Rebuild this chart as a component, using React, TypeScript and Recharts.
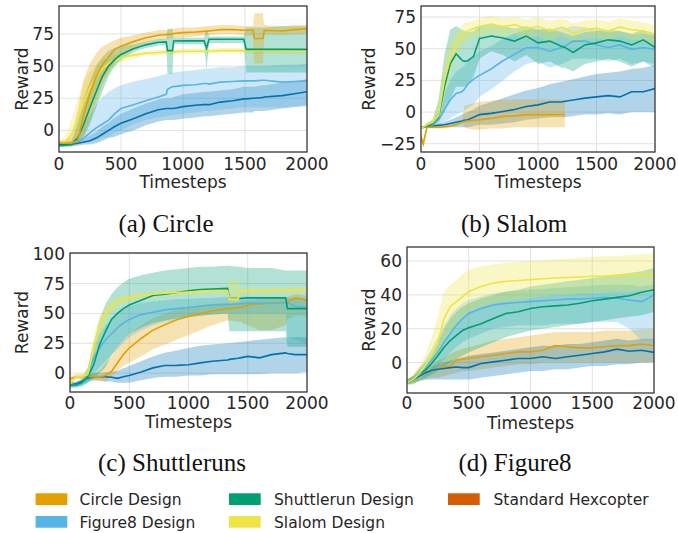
import React from 'react';
import { ComposedChart, Area, Line, XAxis, YAxis, CartesianGrid } from 'recharts';

// ---------- colours ----------
const C_CIRCLE = '#E69F00';
const C_FIG8 = '#56B4E9';
const C_SHUTTLE = '#009E73';
const C_SLALOM = '#F0E442';
const C_STANDARD = '#D55E00';
const C_BASE = '#0072B2';

const xTicks = [0, 500, 1000, 1500, 2000];

// ---------- (a) Circle ----------
const circleX = [0, 50, 100, 150, 200, 250, 300, 350, 400, 450, 500, 600, 700, 800, 865, 875, 915, 925, 1000, 1100, 1170, 1190, 1210, 1300, 1400, 1490, 1510, 1565, 1575, 1645, 1655, 1800, 1900, 2000];
const circleOrange = [-10, -10, -10, -8, 12, 29, 42, 51, 57, 63, 65.5, 69, 72, 74, 74.5, 74.5, 75, 75.3, 76, 76.5, 77, 77, 77.3, 78.3, 78.3, 77.8, 77.8, 77.8, 71.4, 71.4, 77.8, 77.3, 78.3, 78.9];
const circleOrangeLo = [-12, -12, -12, -11, -5, 8, 22, 35, 45, 54, 58, 64, 68, 70, 71, 71, 72, 72, 72, 73, 74, 74, 74, 75, 75, 74, 74, 74, 52, 52, 75, 74, 75, 75];
const circleOrangeHi = [-8, -8, -5, 15, 40, 52, 60, 65, 68, 70, 72, 74, 76, 78, 78, 78, 79, 79, 80, 80, 81, 81, 81, 82, 82, 81, 81, 81, 91, 91, 82, 81, 82, 82];
const circleGreen = [-12, -11.5, -11, -6, 5, 18, 30, 42, 50, 55, 59, 63.5, 66.5, 68.5, 68.8, 62, 62, 69.5, 69.6, 69.6, 69.6, 64, 70.9, 70.9, 70.9, 70.9, 63, 63, 63, 63, 63, 63, 63, 63];
const circleGreenLo = [-13, -13, -13, -10, -5, 5, 18, 30, 42, 50, 55, 61, 64, 66, 66, 44, 44, 67, 67, 67, 67, 47, 68, 68, 68, 68, 45, 45, 45, 45, 45, 45, 45, 45];
const circleGreenHi = [-10, -10, -9, 5, 25, 38, 50, 57, 62, 64, 66, 67, 69, 71, 71, 79, 79, 72, 72, 72, 72, 80, 73, 73, 73, 73, 80, 80, 80, 80, 80, 81, 81, 81];
const circleYellow = [-10, -9, -3, 8, 22, 33, 42, 48, 52, 54.5, 56.5, 58.5, 60, 60.5, 61, 61, 61, 61, 61.5, 61.5, 61.5, 61.5, 61.5, 62, 62, 62, 62, 62, 62, 62, 62, 62, 61.5, 61.5];
const circleYellowLo = [-11, -11, -9, -3, 8, 20, 32, 40, 46, 50, 53, 56, 58, 58.5, 59, 59, 59, 59, 59.5, 59.5, 59.5, 59.5, 59.5, 60, 60, 60, 60, 60, 60, 60, 60, 60, 59.5, 59.5];
const circleYellowHi = [-8, -5, 8, 25, 38, 46, 51, 55, 57, 59, 60, 61, 62, 62.5, 63, 63, 63, 63, 63.5, 63.5, 63.5, 63.5, 63.5, 64, 64, 64, 64, 64, 64, 64, 64, 64, 63.5, 63.5];
const circleSky = [-10, -10, -10, -9, -6, -2, 2, 5, 8, 13, 17, 20, 23, 26, 28, 32, 34, 34, 35, 35.5, 36.5, 36.5, 36, 37.5, 38, 38.5, 38.5, 38.5, 38.5, 39, 39, 37.5, 38, 38.5];
const circleSkyLo = [-12, -12, -12, -11, -10, -9, -8, -6, -5, -2, 0, 5, 8, 10, 11, 11, 12, 12, 13, 14, 15, 15, 15, 16, 17, 18, 18, 18, 18, 18, 18, 18, 19, 20];
const circleSkyHi = [-8, -8, -8, -4, 5, 12, 20, 26, 30, 33, 35, 38, 40, 42, 44, 44, 45, 45, 46, 47, 48, 48, 48, 49, 49, 50, 50, 50, 50, 50, 50, 51, 51, 52];
const circleBase = [-11, -11, -10.5, -10, -9, -8, -6, -3, 0, 3, 5.5, 9, 13, 16, 17, 17, 17, 17, 18.5, 19.5, 20, 20, 20, 22, 23, 24.5, 24.5, 25, 25, 25.5, 26, 27, 28.5, 30];
const circleBaseLo = [-12, -12, -12, -12, -11, -11, -10, -8, -6, -5, -3, 0, 4, 7, 8, 8, 8, 8, 9, 10, 11, 11, 11, 12, 13, 14, 14, 14, 15, 15, 15, 17, 18, 19];
const circleBaseHi = [-10, -10, -9, -8, -6, -4, -1, 3, 6, 10, 13, 17, 21, 24, 25, 25, 25, 26, 28, 29, 30, 30, 30, 31, 32, 34, 34, 34, 34, 35, 35, 37, 38, 40];

// ---------- (b) Slalom ----------
const slalomX = [0, 20, 50, 100, 150, 200, 250, 300, 350, 370, 400, 450, 500, 600, 700, 800, 900, 1000, 1100, 1200, 1230, 1300, 1400, 1500, 1600, 1700, 1800, 1900, 2000];
const slalomYellow = [-12, -12, -10, -8, -3, 25, 42, 53, 61, 62.5, 64, 66, 67.5, 69, 67.5, 69, 66, 67.5, 64, 67, 66, 62, 65, 66, 64, 67, 65, 64, 61];
const slalomYellowLo = [-13, -13, -12, -10, -8, 12, 30, 42, 52, 54, 56, 58, 60, 62, 60, 62, 58, 60, 56, 60, 59, 55, 58, 58, 56, 60, 57, 56, 53];
const slalomYellowHi = [-11, -11, -8, -5, 5, 40, 55, 63, 68, 70, 71, 72, 74, 76, 74, 75, 73, 75, 72, 74, 73, 70, 72, 73, 71, 74, 72, 71, 69];
const slalomGreen = [-12, -12, -11, -9, -4, 20, 38, 46, 41, 40, 40.5, 44, 58, 60, 58.5, 56, 60, 54.6, 56, 52, 51, 47, 53, 54.6, 57, 56, 53, 57, 51];
const slalomGreenLo = [-13, -13, -12, -11, -8, 0, 10, 20, 20, 20, 22, 28, 42, 48, 45, 40, 45, 38, 40, 35, 35, 32, 38, 40, 42, 40, 36, 40, 35];
const slalomGreenHi = [-11, -11, -9, -6, 10, 45, 65, 68, 65, 64, 63, 64, 68, 70, 68, 66, 68, 65, 66, 63, 62, 60, 63, 64, 65, 64, 62, 65, 62];
const slalomSky = [-12, -12, -11, -10, -6, 2, 9.5, 14.7, 16, 18, 22, 26, 29, 34, 40.5, 45.6, 50.8, 51, 48, 51, 52, 56, 56, 53, 51, 53, 49.5, 51, 49.5];
const slalomSkyLo = [-13, -13, -12, -12, -10, -8, -5, -2, 0, 1, 3, 6, 12, 18, 25, 32, 38, 40, 35, 38, 39, 42, 42, 42, 40, 42, 38, 40, 38];
const slalomSkyHi = [-11, -11, -9, -7, 0, 15, 25, 32, 35, 37, 40, 44, 48, 52, 58, 62, 65, 66, 64, 66, 66, 68, 67, 65, 63, 64, 61, 62, 60];
const slalomBase = [-12, -12, -11.5, -11, -10.5, -10, -9, -8, -7, -6.5, -6, -4, -2, -1, 0.5, 2, 4.4, 5.7, 8, 8, 8.5, 9.5, 11, 12, 13, 12, 16, 16, 18.5];
const slalomBaseLo = [-13, -13, -12, -12, -12, -12, -12, -12, -12, -12, -12, -11, -10, -10, -9, -8, -6, -5, -4, -4, -4, -3, -2, -2, -1, -2, 0, 0, 0];
const slalomBaseHi = [-11, -11, -11, -10, -9, -8, -6, -4, -2, -1, 0, 2, 5, 8, 11, 14, 17, 19, 22, 24, 24.5, 26, 28, 30, 31, 32, 34, 35, 37];
const slalomOrange = [-20, -25, -12, -12, -12, -11.5, -11, -10, -8, -7.5, -7, -6.5, -6, -5, -3.4, -3, -2, -2, -2, -2, -2, null, null, null, null, null, null, null, null];
const slalomOrangeLo = [-23, -28, -13, -13, -13, -13, -12, -11, -9, -12, -13, -14, -14, -13, -13, -12, -12, -12, -12, -12, -12, null, null, null, null, null, null, null, null];
const slalomOrangeHi = [-17, -22, -11, -11, -11, -10, -10, -9, -7, 5, 6, 7, 8, 9, 10, 10, 10, 10, 10, 10, 10, null, null, null, null, null, null, null, null];

// ---------- (c) Shuttleruns ----------
const shuttleX = [0, 50, 100, 150, 200, 250, 300, 350, 400, 450, 500, 600, 700, 800, 900, 1000, 1100, 1200, 1330, 1345, 1420, 1435, 1500, 1600, 1700, 1820, 1835, 1900, 2000];
const shuttleYellow = [-9, -3, -3, -1, 21, 39, 50, 56, 60, 62, 63, 65, 66, 67, 67.5, 68, 68.5, 69, 69, 62, 62, 69, 69, 69, 69, 69.5, 69.5, 69.5, 70];
const shuttleYellowLo = [-11, -5, -5, -5, 10, 28, 42, 50, 55, 58, 60, 62, 63.5, 64.5, 65, 65.5, 66, 66.5, 66.5, 58, 58, 66, 66.5, 66.5, 66.5, 67, 67, 67, 67.5];
const shuttleYellowHi = [-7, -1, -1, 5, 32, 48, 56, 61, 64, 65, 66, 67.5, 68.5, 69.5, 70, 70.5, 71, 71.5, 71.5, 78, 78, 72, 71.5, 71.5, 71.5, 72, 72, 72, 72.5];
const shuttleGreen = [-10, -10, -8, -3, 7, 24, 35, 45, 50, 54, 57, 61, 65, 66, 67.5, 69, 70, 70.5, 71, 62.5, 62.5, 62.5, 63, 63, 63, 63, 54, 54, 54];
const shuttleGreenLo = [-12, -12, -11, -8, -5, 0, 5, 15, 22, 28, 33, 38, 42, 44, 46, 47, 48, 49, 50, 35, 35, 35, 35, 35, 35, 35, 22, 22, 22];
const shuttleGreenHi = [-8, -8, -5, 5, 25, 45, 58, 66, 72, 76, 79, 82, 84, 86, 87, 88, 89, 89, 90, 90, 89, 89, 88, 88, 88, 86, 86, 86, 86];
const shuttleSky = [-10, -10, -9, -2, 13, 21, 28, 33, 38, 42, 45, 49, 51, 53, 54, 55, 56, 57, 57.5, 57.5, 58, 58, 58.5, 58.5, 58.5, 59, 59, 56, 55];
const shuttleSkyLo = [-12, -12, -11, -8, 0, 5, 10, 15, 20, 25, 30, 36, 40, 43, 45, 47, 48, 49, 50, 50, 50, 50, 50, 50, 50, 50, 30, 28, 25];
const shuttleSkyHi = [-8, -8, -7, 3, 25, 33, 40, 45, 50, 53, 56, 59, 60, 61, 62, 62, 63, 63, 64, 64, 64, 64, 64, 64, 64, 64, 63, 63, 63];
const shuttleOrange = [-5, -3, -3, -3, -3, -3, -2, 1.5, 8.5, 15.5, 21, 29, 36, 40.5, 44.7, 47.5, 50, 52, 54, 54, 55, 55, 57, 58, 58.6, 59.4, 60, 63, 61];
const shuttleOrangeLo = [-7, -5, -5, -5, -6, -7, -7, -3, 2, 6, 9, 14, 20, 24, 28, 32, 36, 40, 44, 44, 43, 43, 40, 36, 36, 40, 45, 48, 48];
const shuttleOrangeHi = [-3, -1, -1, -1, 0, 2, 8, 14, 22, 28, 33, 40, 46, 50, 53, 55, 57, 58, 59, 59, 60, 60, 61, 62, 62, 63, 64, 66, 65];
const shuttleBase = [-10, -9, -7, -4, -3, -3, -3, -3.5, -4.4, -3, -2, 1, 4.4, 6.4, 6.5, 7, 8.6, 10, 11, 11.5, 12.5, 12.8, 14, 12.8, 15.5, 17, 16.5, 15.5, 15.5];
const shuttleBaseLo = [-12, -11, -9, -7, -6, -6, -7, -7, -8, -8, -8, -6, -4, -3, -3, -2, -2, -1, -1, -1, -1, -1, -1, -1, 0, 0, 0, 0, 1];
const shuttleBaseHi = [-8, -7, -5, -2, 0, 0, 1, 1, 2, 4, 6, 10, 14, 17, 19, 21, 23, 24, 25, 25, 26, 26, 27, 28, 29, 30, 30, 30, 30];

// ---------- (d) Figure8 ----------
const fig8X = [0, 50, 100, 150, 200, 250, 300, 350, 400, 450, 500, 600, 700, 800, 900, 1000, 1100, 1200, 1300, 1400, 1500, 1600, 1700, 1800, 1900, 2000];
const fig8Yellow = [-12, -10, -6.5, -1.6, 4.3, 12, 26, 33, 36, 39, 42, 45, 47, 48, 48.5, 49, 49.5, 50, 50.3, 50.6, 51, 51.2, 51.5, 51.7, 51.9, 52];
const fig8YellowLo = [-13, -12, -10, -7, -3, 2, 10, 17, 22, 26, 30, 33, 35, 36, 37, 38, 39, 40, 40, 41, 41, 41.5, 42, 42, 42.5, 43];
const fig8YellowHi = [-10, -7, -2, 5, 15, 28, 42, 46, 49, 52, 55, 57, 58, 59, 59.5, 60, 60.5, 61, 61.5, 62, 62.5, 63, 63, 63.5, 64, 64.5];
const fig8Green = [-12, -10, -6.5, -4.5, -0.6, 4, 9, 13, 16, 19, 20.5, 23, 26, 29, 30, 32, 33, 33.5, 34, 35, 36.5, 37.5, 38.5, 39.5, 41.5, 43];
const fig8GreenLo = [-13, -13, -10, -9, -7, -5, -3, 0, 2, 4, 6, 9, 12, 15, 17, 19, 20, 21, 22, 23, 24, 25, 26, 27, 28, 30];
const fig8GreenHi = [-10, -8, -3, 0, 5, 12, 20, 26, 30, 33, 35, 38, 40, 42, 43, 45, 46, 47, 48, 49, 50, 51, 52, 53, 54, 56];
const fig8Sky = [-12, -10, -7, -3, 1.4, 6, 12, 17, 22, 26, 29, 32, 34, 35, 35.5, 36, 36.5, 37, 37.5, 37.5, 38, 38.5, 38, 37, 36, 40];
const fig8SkyLo = [-13, -12, -10, -8, -5, -2, 2, 6, 9, 12, 14, 17, 20, 21, 22, 22, 22, 23, 23, 23, 24, 24, 24, 20, 13, 13];
const fig8SkyHi = [-10, -8, -4, 2, 8, 15, 22, 28, 32, 35, 37, 39, 41, 42, 42.5, 43, 43.5, 44, 44.5, 45, 45.5, 46, 46, 46, 45, 46];
const fig8Orange = [-12, -10, -8, -6, -4.5, -3.5, -2.5, -2, 1.4, 2, 2.4, 3.4, 4.3, 5.3, 6.3, 6.3, 7.3, 10, 9.3, 8.7, 8.7, 9.3, 10, 10, 11, 9.9];
const fig8OrangeLo = [-13, -12, -11, -10, -9, -9, -8, -7, -6, -5, -5, -4, -3, -2, -1, -1, 0, 0, 0, 0, 0, 0, 0, 0, 0, 0];
const fig8OrangeHi = [-10, -8, -5, -3, -1, 1, 3, 5, 7, 8, 9, 11, 13, 14, 15, 16, 17, 18, 18, 18, 18, 19, 19, 19, 19.5, 20];
const fig8Base = [-12, -10, -8, -6, -4.5, -4, -3.5, -3, -2.6, -3, -3, -0.6, 0.4, 1.4, 2.4, 2.4, 3.4, 2.4, 3.4, 4.3, 5.3, 6.3, 7.9, 6.7, 7.3, 6];
const fig8BaseLo = [-13, -12, -11, -10, -10, -10, -10, -10, -10, -10, -10, -9, -8, -7, -6, -5, -5, -4, -4, -3, -2, -2, -1, -1, 0, 0];
const fig8BaseHi = [-10, -8, -6, -4, -2, -1, 0, 1, 2, 3, 4, 5, 6, 7, 8, 9, 10, 10, 11, 11, 12, 13, 14, 13, 14, 14];

// ---------- legend ----------
const legendItems = [
  { label: 'Circle Design', color: C_CIRCLE, col: 0, row: 0 },
  { label: 'Figure8 Design', color: C_FIG8, col: 0, row: 1 },
  { label: 'Shuttlerun Design', color: C_SHUTTLE, col: 1, row: 0 },
  { label: 'Slalom Design', color: C_SLALOM, col: 1, row: 1 },
  { label: 'Standard Hexcopter', color: C_STANDARD, col: 2, row: 0 },
];

type Series = { key: string; color: string; mean: (number | null)[]; lo: (number | null)[]; hi: (number | null)[] };

function buildRows(xs: number[], series: Series[]) {
  return xs.map((x, i) => {
    const row: any = { x };
    series.forEach((s) => {
      const m = s.mean[i];
      row[s.key] = m == null ? null : m;
      row[s.key + 'B'] = m == null || s.lo[i] == null ? null : [s.lo[i], s.hi[i]];
    });
    return row;
  });
}

const fmt = (v: number) => (v < 0 ? '\u2212' + String(-v) : String(v));

type Box = { left: number; top: number; width: number; height: number };

function Panel(props: { xs: number[]; series: Series[]; domain: [number, number]; ticks: number[]; box: Box; xGap: number }) {
  const { xs, series, domain, ticks, box, xGap } = props;
  const data = buildRows(xs, series);
  const ML = 60, MT = 10, MR = 30, MB = 30;
  return (
    <div style={{ position: 'absolute', left: box.left - ML, top: box.top - MT }}>
      <ComposedChart
        width={box.width + ML + MR}
        height={box.height + MT + MB}
        data={data}
        margin={{ top: MT, right: MR, bottom: 0, left: 0 }}
      >
        <CartesianGrid stroke="#e2e2e2" strokeWidth={1} />
        <XAxis
          dataKey="x"
          type="number"
          domain={[0, 2000]}
          ticks={xTicks}
          allowDataOverflow
          tickLine={false}
          axisLine={false}
          height={MB}
          tickSize={xGap}
          tickMargin={0}
          tick={{ fontSize: 17, fill: '#262626', fontFamily: 'DejaVu Sans' }}
        />
        <YAxis
          type="number"
          domain={domain}
          ticks={ticks}
          allowDataOverflow
          tickLine={false}
          axisLine={false}
          width={ML}
          tickSize={4}
          tickMargin={1}
          tickFormatter={fmt}
          tick={{ fontSize: 17, fill: '#262626', fontFamily: 'DejaVu Sans' }}
        />
        {series.map((s) => (
          <Area
            key={s.key + 'B'}
            type="linear"
            dataKey={s.key + 'B'}
            stroke="none"
            fill={s.color}
            fillOpacity={0.3}
            dot={false}
            activeDot={false}
            isAnimationActive={false}
          />
        ))}
        {series.map((s) => (
          <Line
            key={s.key}
            type="linear"
            dataKey={s.key}
            stroke={s.color}
            strokeWidth={1.6}
            dot={false}
            activeDot={false}
            isAnimationActive={false}
          />
        ))}
      </ComposedChart>
    </div>
  );
}

const boxA: Box = { left: 59, top: 6, width: 248, height: 146 };
const boxB: Box = { left: 421, top: 6, width: 234, height: 146 };
const boxC: Box = { left: 70, top: 253, width: 237, height: 139 };
const boxD: Box = { left: 407, top: 247, width: 247, height: 146 };

export default function App() {
  const circleSeries: Series[] = [
    { key: 'base', color: C_BASE, mean: circleBase, lo: circleBaseLo, hi: circleBaseHi },
    { key: 'sky', color: C_FIG8, mean: circleSky, lo: circleSkyLo, hi: circleSkyHi },
    { key: 'yellow', color: C_SLALOM, mean: circleYellow, lo: circleYellowLo, hi: circleYellowHi },
    { key: 'green', color: C_SHUTTLE, mean: circleGreen, lo: circleGreenLo, hi: circleGreenHi },
    { key: 'orange', color: C_CIRCLE, mean: circleOrange, lo: circleOrangeLo, hi: circleOrangeHi },
  ];
  const slalomSeries: Series[] = [
    { key: 'base', color: C_BASE, mean: slalomBase, lo: slalomBaseLo, hi: slalomBaseHi },
    { key: 'orange', color: C_CIRCLE, mean: slalomOrange, lo: slalomOrangeLo, hi: slalomOrangeHi },
    { key: 'sky', color: C_FIG8, mean: slalomSky, lo: slalomSkyLo, hi: slalomSkyHi },
    { key: 'green', color: C_SHUTTLE, mean: slalomGreen, lo: slalomGreenLo, hi: slalomGreenHi },
    { key: 'yellow', color: C_SLALOM, mean: slalomYellow, lo: slalomYellowLo, hi: slalomYellowHi },
  ];
  const shuttleSeries: Series[] = [
    { key: 'base', color: C_BASE, mean: shuttleBase, lo: shuttleBaseLo, hi: shuttleBaseHi },
    { key: 'orange', color: C_CIRCLE, mean: shuttleOrange, lo: shuttleOrangeLo, hi: shuttleOrangeHi },
    { key: 'sky', color: C_FIG8, mean: shuttleSky, lo: shuttleSkyLo, hi: shuttleSkyHi },
    { key: 'green', color: C_SHUTTLE, mean: shuttleGreen, lo: shuttleGreenLo, hi: shuttleGreenHi },
    { key: 'yellow', color: C_SLALOM, mean: shuttleYellow, lo: shuttleYellowLo, hi: shuttleYellowHi },
  ];
  const fig8Series: Series[] = [
    { key: 'orange', color: C_CIRCLE, mean: fig8Orange, lo: fig8OrangeLo, hi: fig8OrangeHi },
    { key: 'base', color: C_BASE, mean: fig8Base, lo: fig8BaseLo, hi: fig8BaseHi },
    { key: 'sky', color: C_FIG8, mean: fig8Sky, lo: fig8SkyLo, hi: fig8SkyHi },
    { key: 'green', color: C_SHUTTLE, mean: fig8Green, lo: fig8GreenLo, hi: fig8GreenHi },
    { key: 'yellow', color: C_SLALOM, mean: fig8Yellow, lo: fig8YellowLo, hi: fig8YellowHi },
  ];

  const boxes = [boxA, boxB, boxC, boxD];
  const labelFont = { fontFamily: 'DejaVu Sans', fontSize: 17, fill: '#262626' } as const;
  const capFont = { fontFamily: 'Liberation Serif', fontSize: 25, fill: '#111' } as const;
  const rewardPos = [
    { x: 28.3, y: 79 },
    { x: 375, y: 79 },
    { x: 28.3, y: 322.5 },
    { x: 375, y: 320 },
  ];
  const timeBaseline = [188.3, 188.3, 428.3, 429];
  const captions = [
    { t: '(a) Circle', x: 166, y: 231.5 },
    { t: '(b) Slalom', x: 514, y: 231.5 },
    { t: '(c) Shuttleruns', x: 172, y: 471 },
    { t: '(d) Figure8', x: 515, y: 471 },
  ];
  const colX = [35.6, 229, 448];
  const textX = [79.6, 274, 493.5];
  const rowY = [493.3, 516];
  const rowBase = [505, 527.7];

  return (
    <div style={{ position: 'absolute', left: 0, top: 0, width: 678, height: 533, background: '#fff', overflow: 'hidden' }}>
      <Panel xs={circleX} series={circleSeries} domain={[-16.8, 96.7]} ticks={[0, 25, 50, 75]} box={boxA} xGap={6} />
      <Panel xs={slalomX} series={slalomSeries} domain={[-31.5, 83.7]} ticks={[-25, 0, 25, 50, 75]} box={boxB} xGap={6} />
      <Panel xs={shuttleX} series={shuttleSeries} domain={[-15.8, 100.6]} ticks={[0, 25, 50, 75, 100]} box={boxC} xGap={5} />
      <Panel xs={fig8X} series={fig8Series} domain={[-18, 68.3]} ticks={[0, 20, 40, 60]} box={boxD} xGap={4} />
      <svg width={678} height={533} style={{ position: 'absolute', left: 0, top: 0, pointerEvents: 'none' }}>
        {boxes.map((b, i) => (
          <rect key={'f' + i} x={b.left} y={b.top} width={b.width} height={b.height} fill="none" stroke="#3c3c3c" strokeWidth={1.3} />
        ))}
        {rewardPos.map((p, i) => (
          <text key={'r' + i} transform={`translate(${p.x},${p.y}) rotate(-90)`} textAnchor="middle" {...labelFont}>
            Reward
          </text>
        ))}
        {boxes.map((b, i) => (
          <text key={'t' + i} x={b.left + b.width / 2} y={timeBaseline[i]} textAnchor="middle" {...labelFont}>
            Timesteps
          </text>
        ))}
        {captions.map((c, i) => (
          <text key={'c' + i} x={c.x} y={c.y} textAnchor="middle" {...capFont}>
            {c.t}
          </text>
        ))}
        {legendItems.map((it, i) => (
          <g key={'l' + i}>
            <rect x={colX[it.col]} y={rowY[it.row]} width={31.7} height={11.7} fill={it.color} />
            <text x={textX[it.col]} y={rowBase[it.row]} fontFamily="DejaVu Sans" fontSize={15.5} fill="#262626">
              {it.label}
            </text>
          </g>
        ))}
      </svg>
    </div>
  );
}
